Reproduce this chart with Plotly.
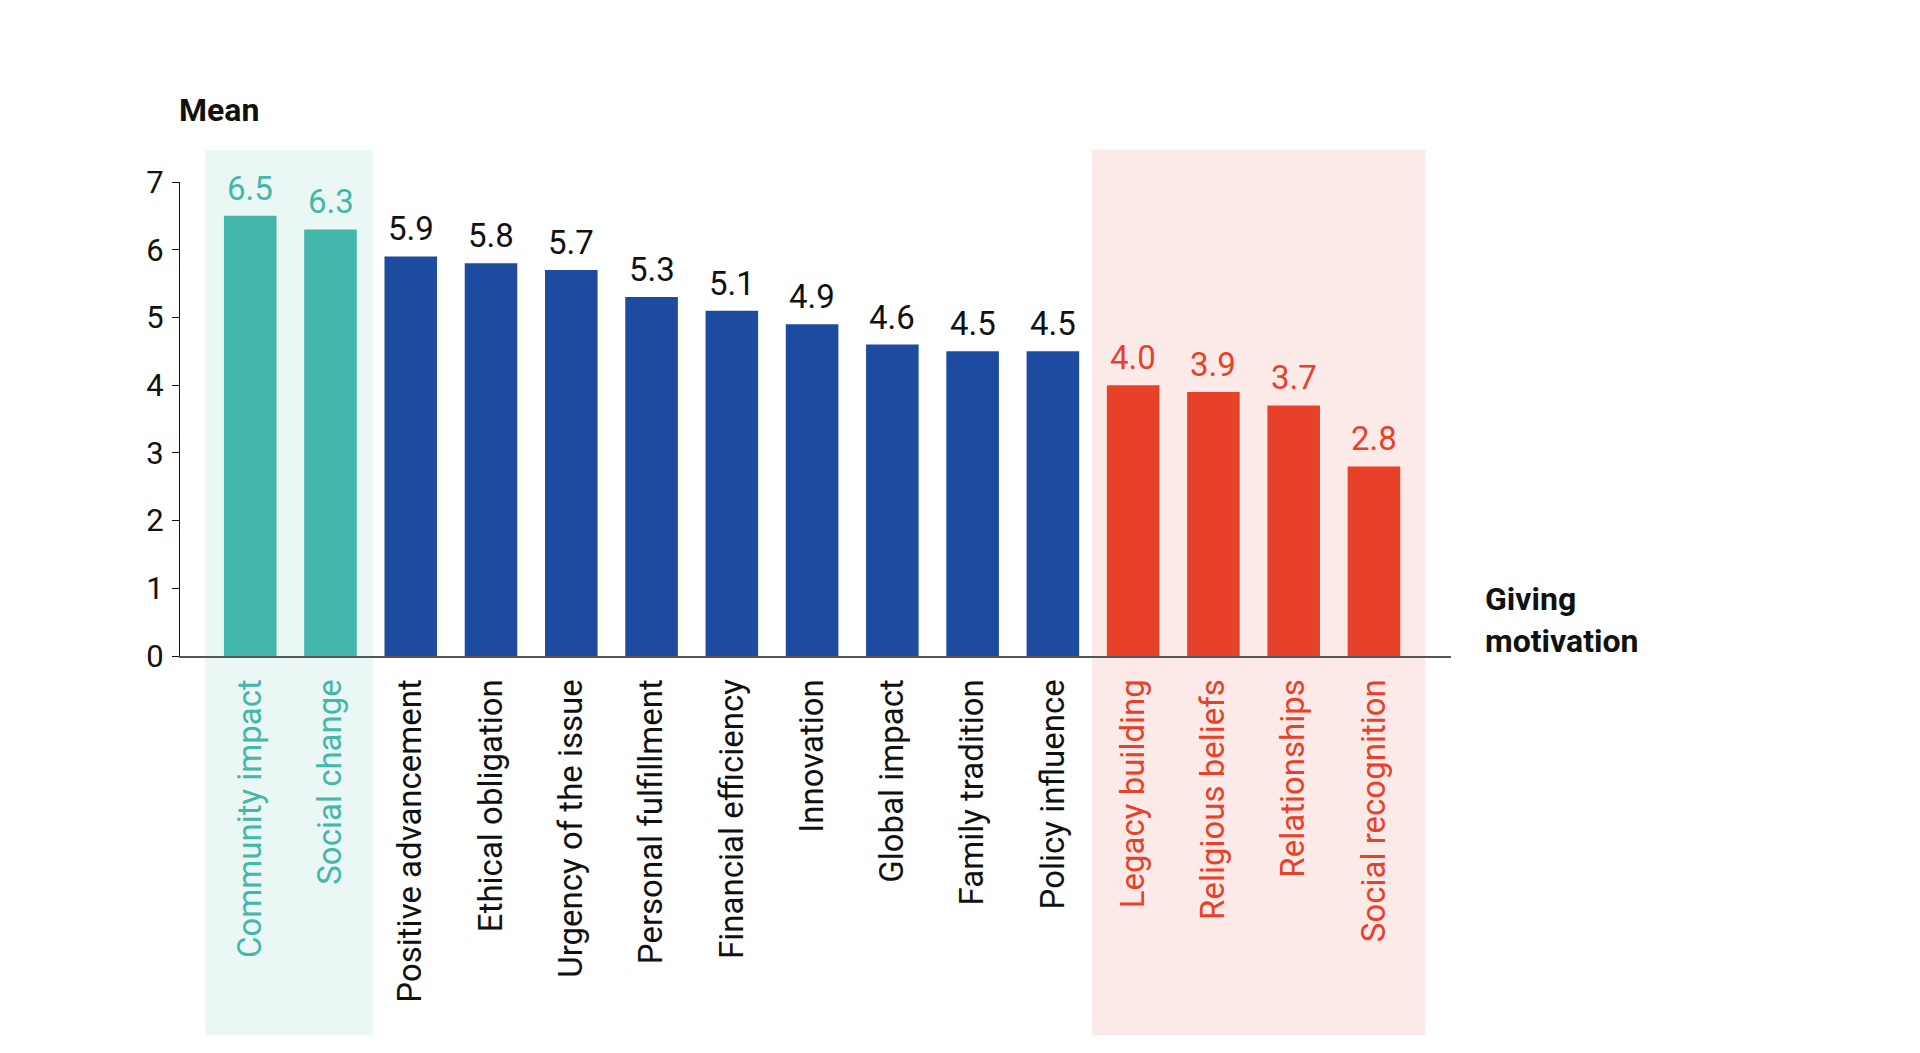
import plotly.graph_objects as go

# Mean score per giving motivation
motivations = [
    "Community impact", "Social change", "Positive advancement", "Ethical obligation",
    "Urgency of the issue", "Personal fulfillment", "Financial efficiency", "Innovation",
    "Global impact", "Family tradition", "Policy influence", "Legacy building",
    "Religious beliefs", "Relationships", "Social recognition",
]
means = [6.5, 6.3, 5.9, 5.8, 5.7, 5.3, 5.1, 4.9, 4.6, 4.5, 4.5, 4.0, 3.9, 3.7, 2.8]
groups = ["top", "top", "mid", "mid", "mid", "mid", "mid", "mid", "mid", "mid", "mid",
          "low", "low", "low", "low"]
y_ticks = [0, 1, 2, 3, 4, 5, 6, 7]

TEAL = "#43B7AA"
BLUE = "#1C4BA0"
RED = "#E8412A"
INK = "#111111"
bar_colors = {"top": TEAL, "mid": BLUE, "low": RED}
label_colors = {"top": TEAL, "mid": INK, "low": RED}

FONT = "Roboto, 'Open Sans', sans-serif"

fig = go.Figure()
fig.add_trace(go.Bar(
    x=list(range(len(motivations))),
    y=means,
    marker=dict(color=[bar_colors[g] for g in groups], line=dict(width=0)),
    width=0.655,
    hoverinfo="skip",
))

# value labels above each bar
for i, (v, g) in enumerate(zip(means, groups)):
    fig.add_annotation(x=i, y=v, text=f"{v:.1f}", xref="x", yref="y",
                       xanchor="center", yanchor="bottom", yshift=6, showarrow=False,
                       font=dict(family=FONT, size=33, color=label_colors[g]))

# highlighted bands behind the first two and last four bars
fig.add_shape(type="rect", xref="x", yref="paper", x0=-0.56, x1=1.53, y0=-0.80, y1=1.068,
              fillcolor="#EBF7F4", line=dict(width=0), layer="below")
fig.add_shape(type="rect", xref="x", yref="paper", x0=10.49, x1=14.64, y0=-0.80, y1=1.068,
              fillcolor="#FBEAE8", line=dict(width=0), layer="below")

fig.add_annotation(text="<b>Mean</b>", xref="paper", yref="paper", x=-0.002, y=1.152,
                   xanchor="left", yanchor="middle", showarrow=False,
                   font=dict(family=FONT, size=32, color=INK))
fig.add_annotation(text="<b>Giving<br>motivation</b>", xref="paper", yref="paper",
                   x=1.025, y=0.076, xanchor="left", yanchor="middle", align="left",
                   showarrow=False, font=dict(family=FONT, size=32, color=INK))

tick_text = [f"<span style='color:{label_colors[g]}'>{m}</span>" for m, g in zip(motivations, groups)]

fig.update_layout(
    width=1920, height=1053,
    margin=dict(l=172, r=477, t=174, b=405, pad=0),
    paper_bgcolor="white", plot_bgcolor="rgba(0,0,0,0)",
    font=dict(family=FONT, color=INK),
    showlegend=False,
    bargap=0.345,
)
fig.update_xaxes(
    range=[-0.875, 14.96],
    tickmode="array", tickvals=list(range(len(motivations))), ticktext=tick_text,
    tickangle=-90, tickfont=dict(family=FONT, size=33, color=INK),
    showline=True, linecolor="#555555", linewidth=2,
    showgrid=False, zeroline=False, ticks="", ticklabelstandoff=8,
)
fig.update_yaxes(
    range=[0, 7], tickmode="array", tickvals=y_ticks,
    tickfont=dict(family=FONT, size=31, color=INK),
    showline=True, linecolor=INK, linewidth=1,
    ticks="outside", ticklen=7, tickcolor=INK, tickwidth=1,
    showgrid=False, zeroline=False, ticklabelstandoff=2,
)

fig.write_html("out.html")
